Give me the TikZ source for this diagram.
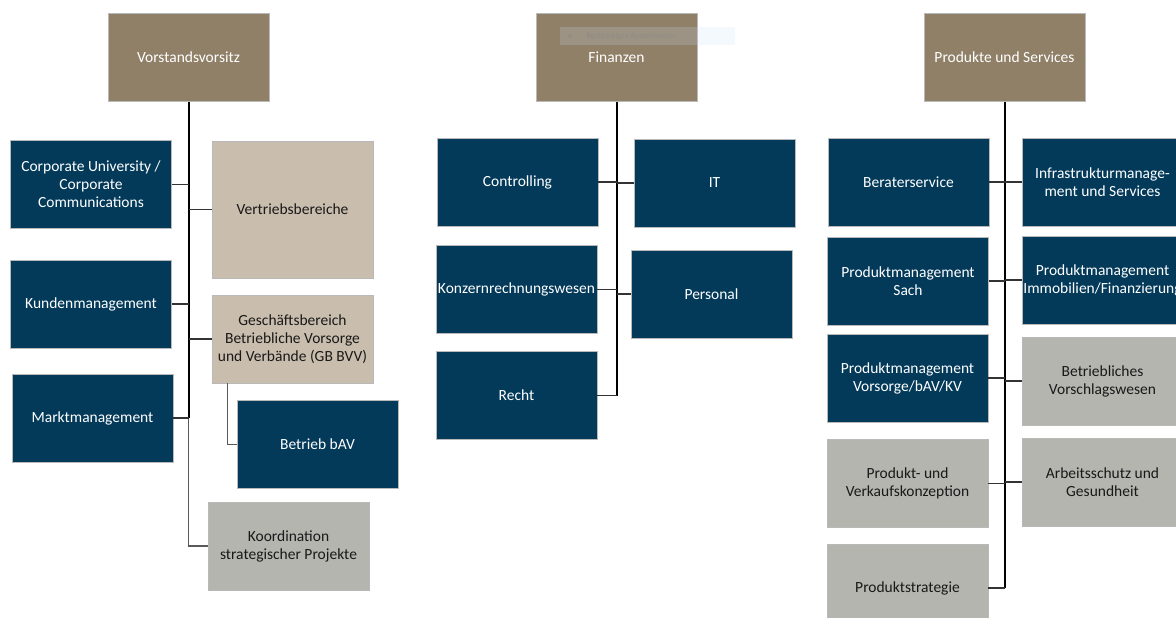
\documentclass[tikz,border=0pt]{standalone}
\usepackage{fontspec}
\setmainfont{Carlito}
\usetikzlibrary{positioning}
\definecolor{head}{HTML}{918068}
\definecolor{navy}{HTML}{033A5A}
\definecolor{sand}{HTML}{C9BDAD}
\definecolor{stone}{HTML}{B3B5AE}
\definecolor{tip}{HTML}{C8E0F8}

\begin{document}
\begin{tikzpicture}[x=1pt, y=-1pt,
      box/.style={rectangle, draw=gray!55, line width=0.6pt, minimum width=161pt,
                  minimum height=88pt, align=center, inner sep=0pt,
                  font=\fontsize{15.5}{18}\selectfont},
      headbox/.style={box, fill=head, text=white},
      unit/.style={box, fill=navy, text=white},
      sales/.style={box, fill=sand, text=black!90},
      staff/.style={box, fill=stone, text=black!90},
      trunk/.style={line width=2pt, black},
      branch/.style={line width=1.7pt, black!80},
      thin/.style={line width=1.1pt, black!65}]
      \useasboundingbox (0,0) rectangle (1176,618);
      \clip (0,0) rectangle (1176,618);

      % Vorstandsvorsitz
      \node[headbox] (vorsitz) at (188.5,57.5) {Vorstandsvorsitz};
      \node[unit] (corpuni) at (91,184.5) {Corporate University /\\Corporate\\Communications};
      \node[sales, minimum height=137pt] (vertrieb) at (292.5,209.5) {Vertriebsbereiche};
      \node[unit] (kunden) at (91,304) {Kundenmanagement};
      \node[sales] (gbbvv) at (292.5,339) {Geschäftsbereich\\Betriebliche Vorsorge\\und Verbände (GB BVV)};
      \node[unit] (markt) at (92.5,418) {Marktmanagement};
      \node[unit] (bav) at (317.5,444.5) {Betrieb bAV};
      \node[staff] (koord) at (288.5,546) {Koordination\\strategischer Projekte};

      \draw[trunk] (vorsitz.south) -- (vorsitz.south |- markt.east);
      \draw[thin] (vorsitz.south |- markt.east) |- (koord.west);
      \foreach \n in {corpuni,kunden,markt}
        \draw[branch] (\n.east) -- (\n.east -| vorsitz.south);
      \foreach \n in {vertrieb,gbbvv}
        \draw[branch] (\n.west) -- (\n.west -| vorsitz.south);
      \draw[thin] ([xshift=16pt]gbbvv.south west) |- (bav.west);

      % Finanzen
      \node[headbox] (finanzen) at (616.5,57.5) {Finanzen};
      \node[unit] (controlling) at (517.5,182) {Controlling};
      \node[unit] (it) at (714.5,183) {IT};
      \node[unit] (konzern) at (516.5,289.5) {Konzernrechnungswesen};
      \node[unit] (personal) at (711.5,294) {Personal};
      \node[unit] (recht) at (516.5,395.5) {Recht};

      \draw[trunk] (finanzen.south) -- (finanzen.south |- recht.east);
      \foreach \n in {controlling,konzern,recht}
        \draw[branch] (\n.east) -- (\n.east -| finanzen.south);
      \foreach \n in {it,personal}
        \draw[branch] (\n.west) -- (\n.west -| finanzen.south);

      % Produkte und Services
      \node[headbox] (produkte) at (1004.5,57.5) {Produkte und Services};
      \node[unit] (berater) at (908.5,182) {Beraterservice};
      \node[unit] (infra) at (1102.5,182) {Infrastrukturmanage-\\ment und Services};
      \node[unit] (pmsach) at (908,281) {Produktmanagement\\Sach};
      \node[unit] (pmimmo) at (1102.5,280) {Produktmanagement\\Immobilien/Finanzierung};
      \node[unit] (pmvors) at (907.5,378) {Produktmanagement\\Vorsorge/bAV/KV};
      \node[staff] (vorschlag) at (1102.5,381) {Betriebliches\\Vorschlagswesen};
      \node[staff] (konzeption) at (907.5,483.5) {Produkt- und\\Verkaufskonzeption};
      \node[staff] (arbeit) at (1102.5,482) {Arbeitsschutz und\\Gesundheit};
      \node[staff] (strategie) at (907.5,588) {Produktstrategie};

      \draw[trunk] (produkte.south) -- (produkte.south |- strategie.east);
      \foreach \n in {berater,pmsach,pmvors,konzeption,strategie}
        \draw[branch] (\n.east) -- (\n.east -| produkte.south);
      \foreach \n in {infra,pmimmo,vorschlag,arbeit}
        \draw[branch] (\n.west) -- (\n.west -| produkte.south);

      % overlay
      \fill[tip, opacity=0.2] (560,27) rectangle (735,45);
      \fill[gray, opacity=0.25] (570,36) circle (2);
      \node[font=\fontsize{8}{9}\selectfont, text=gray, opacity=0.45, anchor=west]
        (schnitt) at (583,36) {Rechteckiges Ausschneiden};
    \end{tikzpicture}
\end{document}
